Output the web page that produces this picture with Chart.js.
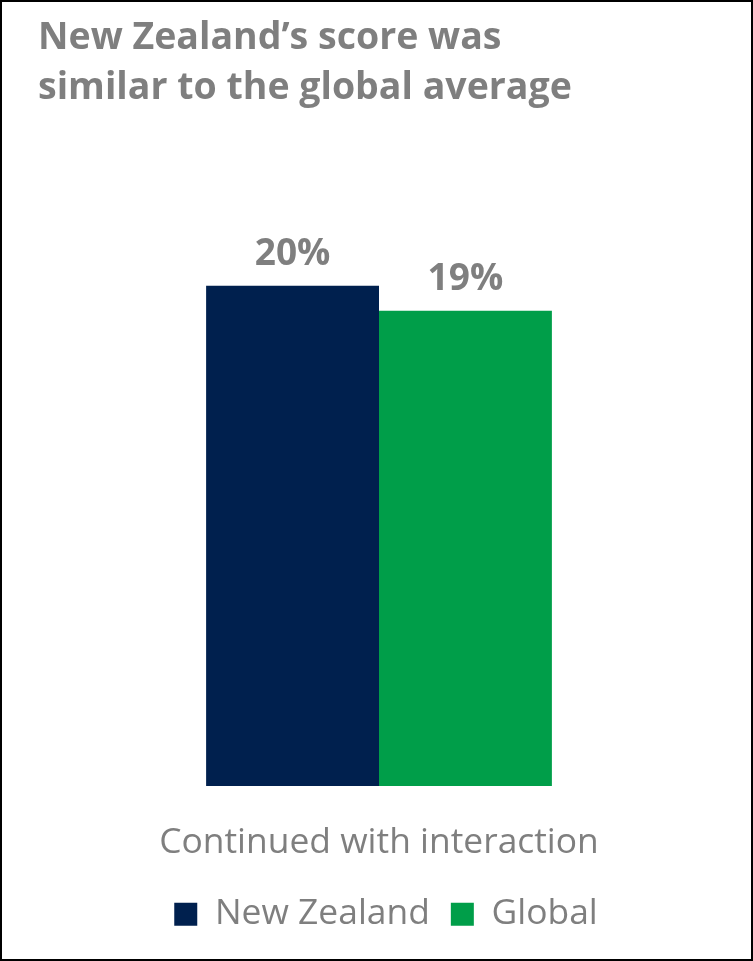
<!DOCTYPE html>
<html>
<head>
<meta charset="utf-8">
<script src="https://cdn.jsdelivr.net/npm/chart.js@4/dist/chart.umd.min.js"></script>
<style>
  html, body { margin: 0; padding: 0; background: #fff; }
  #frame {
    width: 753px; height: 961px; box-sizing: border-box;
    border: 2px solid #000; background: #fff;
  }
  #wrap { position: relative; width: 749px; height: 957px; }
</style>
</head>
<body>
<div id="frame"><div id="wrap"><canvas id="chart"></canvas></div></div>
<script>
// Share of respondents who continued with the interaction
const categories = ['Continued with interaction'];
const seriesNames = ['New Zealand', 'Global'];
const newZealandValues = [20];
const globalValues = [19];
const titleLines = ['New Zealand\u2019s score was', 'similar to the global average'];

const NAVY = '#00204E';
const GREEN = '#009E49';
const GREY = '#7F7F7F';
const FONT = "'Open Sans', 'DejaVu Sans', sans-serif";

// Writes each bar's value as a percentage just above the bar
const valueLabels = {
  id: 'valueLabels',
  afterDatasetsDraw(chart) {
    const ctx = chart.ctx;
    ctx.save();
    ctx.font = `bold 37px ${FONT}`;
    ctx.fillStyle = GREY;
    ctx.textAlign = 'center';
    ctx.textBaseline = 'alphabetic';
    chart.data.datasets.forEach((ds, i) => {
      chart.getDatasetMeta(i).data.forEach((bar, j) => {
        ctx.fillText(ds.data[j] + '%', bar.x, bar.y - 21);
      });
    });
    ctx.restore();
  }
};

// Shifts the legend box after layout so it sits closer to the axis label
const legendNudge = {
  id: 'legendNudge',
  afterLayout(chart, args, opts) {
    const lg = chart.legend;
    if (!lg) return;
    lg.left += opts.x; lg.right += opts.x;
    lg.top += opts.y; lg.bottom += opts.y;
  }
};

new Chart(document.getElementById('chart'), {
  type: 'bar',
  data: {
    labels: categories,
    datasets: [
      { label: seriesNames[0], data: newZealandValues, backgroundColor: NAVY },
      { label: seriesNames[1], data: globalValues, backgroundColor: GREEN }
    ]
  },
  options: {
    responsive: true,
    maintainAspectRatio: false,
    animation: false,
    layout: { padding: { left: 36, right: 31, top: 0, bottom: 0 } },
    datasets: { bar: { categoryPercentage: 0.507, barPercentage: 1.0, borderWidth: 0 } },
    scales: {
      x: {
        grid: { display: false },
        border: { display: false },
        ticks: { color: GREY, font: { family: FONT, size: 35.4 }, padding: 28 }
      },
      y: { display: false, min: 0, max: 26.1 }
    },
    plugins: {
      title: {
        display: true,
        text: titleLines,
        align: 'start',
        color: GREY,
        font: { family: FONT, size: 37.5, weight: 'bold', lineHeight: 1.333 },
        padding: { top: 11, bottom: 20 }
      },
      legend: {
        position: 'bottom',
        labels: {
          color: GREY,
          font: { family: FONT, size: 35.4 },
          boxWidth: 23, boxHeight: 23,
          padding: 21
        }
      },
      legendNudge: { x: 7, y: -17 },
      tooltip: { enabled: false }
    }
  },
  plugins: [valueLabels, legendNudge]
});
</script>
</body>
</html>
